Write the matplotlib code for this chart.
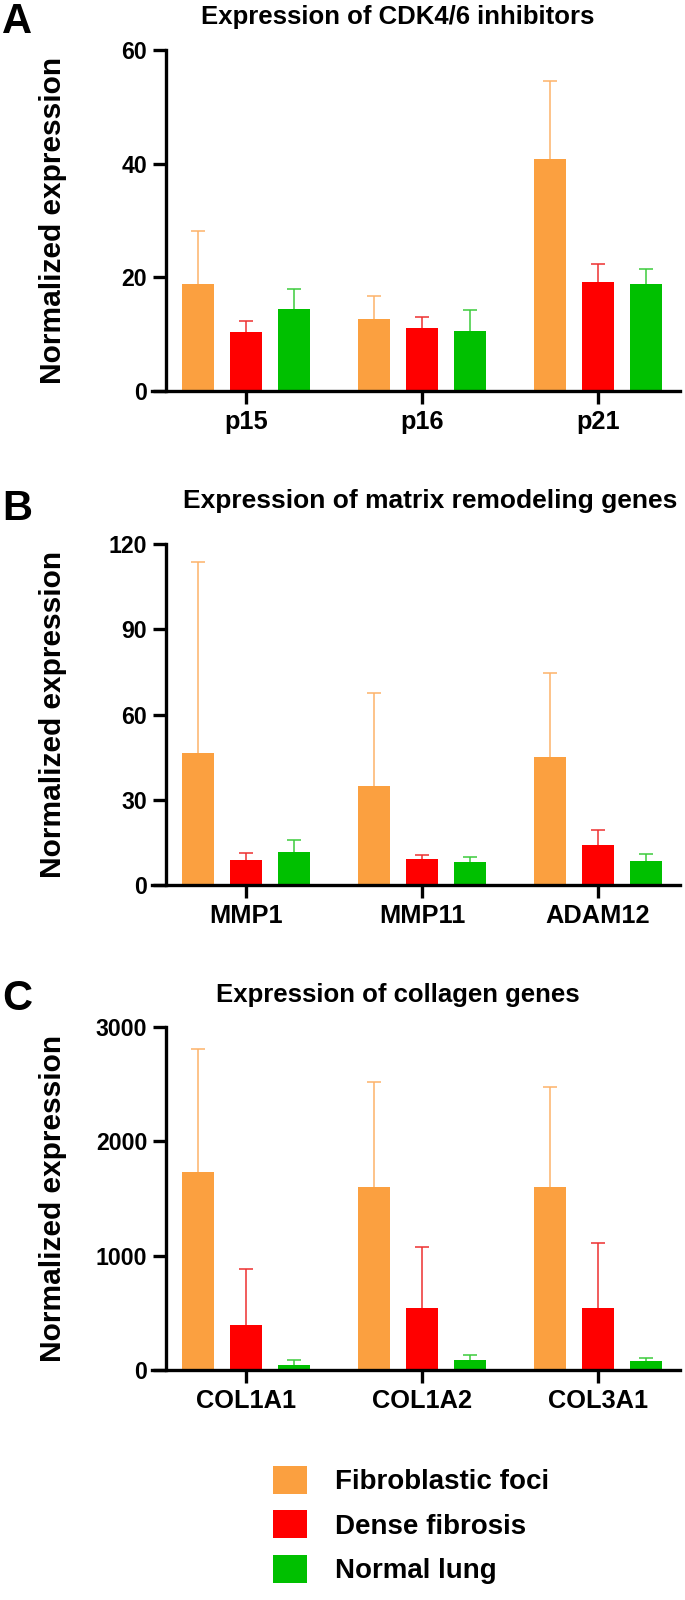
import matplotlib
matplotlib.use("Agg")
import numpy as np
import matplotlib.pyplot as plt
from matplotlib.patches import Patch

plt.rcParams['font.family'] = ['Liberation Sans', 'DejaVu Sans']
plt.rcParams['font.weight'] = 'bold'

groups = ["Fibroblastic foci", "Dense fibrosis", "Normal lung"]
bar_colors = ["#FBA040", "#FF0000", "#00C000"]
err_colors = ["#FDB36A", "#EE3030", "#3CCB3C"]

# panel A: CDK4/6 inhibitors
cdk_genes = ["p15", "p16", "p21"]
cdk_fibro = [18.9, 12.7, 40.9]
cdk_fibro_sd = [9.3, 4.1, 13.7]
cdk_dense = [10.3, 11.0, 19.2]
cdk_dense_sd = [2.1, 2.0, 3.2]
cdk_normal = [14.4, 10.6, 18.8]
cdk_normal_sd = [3.6, 3.6, 2.6]

# panel B: matrix remodeling
mmp_genes = ["MMP1", "MMP11", "ADAM12"]
mmp_fibro = [46.6, 34.9, 44.9]
mmp_fibro_sd = [67.2, 32.8, 29.6]
mmp_dense = [8.8, 9.3, 14.1]
mmp_dense_sd = [2.3, 1.1, 5.3]
mmp_normal = [11.7, 8.0, 8.4]
mmp_normal_sd = [4.1, 2.0, 2.5]

# panel C: collagen
col_genes = ["COL1A1", "COL1A2", "COL3A1"]
col_fibro = [1730, 1600, 1600]
col_fibro_sd = [1076, 919, 878]
col_dense = [393, 545, 545]
col_dense_sd = [494, 530, 568]
col_normal = [48, 89, 77]
col_normal_sd = [38, 45, 30]

W, H = 685, 1600
fig = plt.figure(figsize=(W / 100, H / 100), dpi=100)


def fx(px):
    return px / W


def fy(py):
    return 1 - py / H


def draw_panel(top_px, bottom_px, genes, series, sds, yticks, title, letter,
               title_x, title_base, title_size, letter_base):
    ax = fig.add_axes([fx(152), fy(bottom_px), fx(680) - fx(152),
                       (bottom_px - top_px) / H])
    offset, width = 0.273, 0.182
    for k, (vals, sd) in enumerate(zip(series, sds)):
        xs = [i + (k - 1) * offset for i in range(len(genes))]
        ax.bar(xs, vals, width=width, color=bar_colors[k], zorder=2)
        eb = ax.errorbar(xs, vals, yerr=[[0] * len(vals), sd], fmt='none',
                         ecolor=err_colors[k], elinewidth=1.1, capsize=5,
                         capthick=1.1, zorder=3)
        # only the upper cap is shown
        for cl in eb[1]:
            if np.allclose(cl.get_ydata(), vals):
                cl.set_visible(False)
    ax.set_xlim(-0.534, 2.466)
    ax.set_ylim(0, yticks[-1])
    ax.tick_params(axis='y', direction='out', length=9.5, width=2.4, pad=4,
                   labelsize=16.7)
    ax.tick_params(axis='x', direction='out', length=9.5, width=2.4, pad=4,
                   labelsize=18.3)
    ax.set_yticks(yticks)
    ax.set_xticks(range(len(genes)), labels=genes)
    ax.spines['top'].set_visible(False)
    ax.spines['right'].set_visible(False)
    ax.spines['left'].set_position(('axes', 0.0265))
    ax.spines['left'].set_linewidth(2.4)
    ax.spines['bottom'].set_linewidth(2.4)
    ax.set_ylabel("Normalized expression", fontsize=21.5, fontweight='bold',
                  va='center')
    ax.yaxis.set_label_coords(-0.188, 0.5)
    fig.text(fx(title_x), fy(title_base), title, fontsize=title_size,
             fontweight='bold', ha='center', va='baseline')
    fig.text(fx(2), fy(letter_base), letter, fontsize=30, fontweight='bold',
             ha='left', va='baseline')
    return ax


draw_panel(50, 391, cdk_genes,
           [cdk_fibro, cdk_dense, cdk_normal],
           [cdk_fibro_sd, cdk_dense_sd, cdk_normal_sd],
           [0, 20, 40, 60], "Expression of CDK4/6 inhibitors", "A",
           398, 24, 18.5, 33)
draw_panel(544, 885, mmp_genes,
           [mmp_fibro, mmp_dense, mmp_normal],
           [mmp_fibro_sd, mmp_dense_sd, mmp_normal_sd],
           [0, 30, 60, 90, 120], "Expression of matrix remodeling genes", "B",
           430, 508, 19, 520)
draw_panel(1027, 1370, col_genes,
           [col_fibro, col_dense, col_normal],
           [col_fibro_sd, col_dense_sd, col_normal_sd],
           [0, 1000, 2000, 3000], "Expression of collagen genes", "C",
           398, 1002, 18.5, 1010)

handles = [Patch(facecolor=c, edgecolor='none') for c in bar_colors]
fig.legend(handles, groups, loc='upper left',
           bbox_to_anchor=(fx(273), fy(1466)), frameon=False,
           prop={'size': 20, 'weight': 'bold'}, handlelength=1.22,
           handleheight=1.15, handletextpad=1.0, labelspacing=0.55,
           borderpad=0, borderaxespad=0)

fig.savefig("out.png", dpi=100)
